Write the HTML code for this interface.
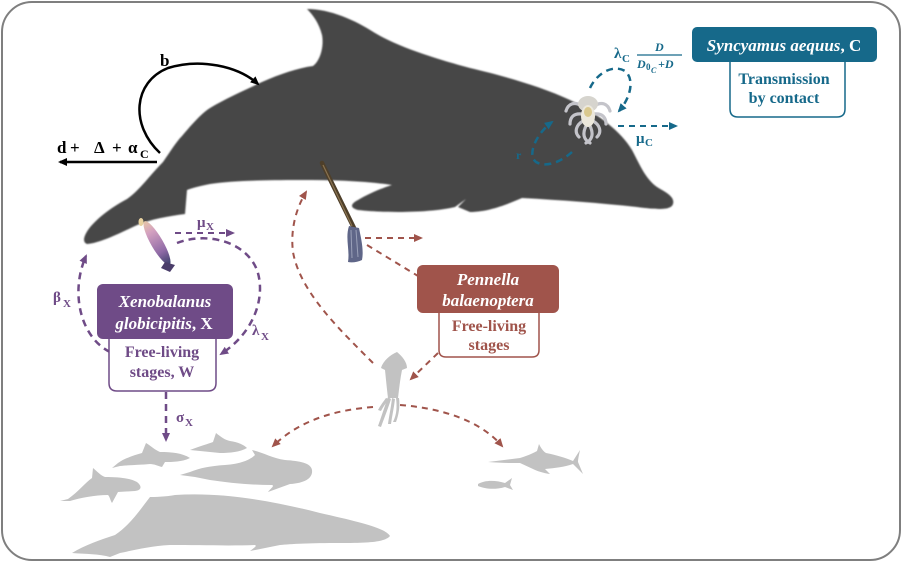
<!DOCTYPE html>
<html>
<head>
<meta charset="utf-8">
<style>
html,body{margin:0;padding:0;background:#fff;}
svg{display:block;}
text{font-family:"Liberation Serif","DejaVu Serif",serif;font-weight:bold;}
</style>
</head>
<body>
<svg width="904" height="564" viewBox="0 0 904 564" xmlns="http://www.w3.org/2000/svg">
<defs>
  <marker id="mk" markerUnits="userSpaceOnUse" markerWidth="10" markerHeight="10" refX="7" refY="5" orient="auto"><path d="M0,1 L9,5 L0,9 z" fill="#000"/></marker>
  <marker id="mp" markerUnits="userSpaceOnUse" markerWidth="10" markerHeight="10" refX="7" refY="5" orient="auto"><path d="M0,1 L9,5 L0,9 z" fill="#6f4b87"/></marker>
  <marker id="mt" markerUnits="userSpaceOnUse" markerWidth="10" markerHeight="10" refX="7" refY="5" orient="auto"><path d="M0,1 L9,5 L0,9 z" fill="#16698a"/></marker>
  <marker id="mr" markerUnits="userSpaceOnUse" markerWidth="10" markerHeight="10" refX="7" refY="5" orient="auto"><path d="M0,1 L9,5 L0,9 z" fill="#a0544b"/></marker>
  <filter id="sh" x="-10%" y="-10%" width="120%" height="120%"><feGaussianBlur stdDeviation="0.7"/></filter>
  <linearGradient id="xg" x1="0" y1="0" x2="0" y2="1">
    <stop offset="0" stop-color="#e6c7a8"/>
    <stop offset="0.25" stop-color="#d3a0c0"/>
    <stop offset="0.7" stop-color="#8f6aa6"/>
    <stop offset="1" stop-color="#3a3f6a"/>
  </linearGradient>
</defs>

<!-- frame -->
<rect x="2" y="2" width="898" height="558" rx="30" ry="30" fill="#fff" stroke="#7f7f7f" stroke-width="2"/>

<!-- main dolphin -->
<path filter="url(#sh)" fill="#474747" d="M307,9 C330,9 355,20 375,33 C400,48 440,60 470,68 C500,75 540,86 570,100 C595,112 620,130 632,150 C640,165 645,178 657,187 C667,193 675,197 673,204 C671,210 660,210 637,207 C600,203 560,200 522,198 C510,203 490,212 470,212 L458,207 L466,199 L455,207 C430,213 385,213 358,210 C350,208 350,204 358,200 C368,194 382,188 392,185 C365,181 335,180 300,180 C260,180 230,181 210,184 C200,186 192,188 187,190 L185,214 C170,216 150,219 135,226 C118,234 100,243 87,244 C82,242 84,236 88,230 C95,220 110,208 127,199 C140,190 150,175 163,162 C170,152 176,142 182,136 C192,124 202,113 210,108 C225,99 245,90 262,82 C280,74 298,68 313,66 C321,60 324,45 322,35 C319,23 313,15 307,9 Z"/>

<!-- Pennella on dolphin -->
<path d="M322,163 L354,228" stroke="#4e3f2a" stroke-width="4.5" stroke-linecap="round"/>
<path d="M323,165 L352,226" stroke="#8a7350" stroke-width="1.2"/>
<path d="M349,226 C345,238 350,250 348,262 C352,263 358,262 362,260 C364,250 361,238 359,228 Z" fill="#5f6688"/>
<path d="M351,230 L352,258 M356,230 L358,257" stroke="#9aa0b8" stroke-width="1"/>

<!-- Xenobalanus on dolphin -->
<ellipse cx="157" cy="243" rx="6" ry="25" transform="rotate(-30 157 243)" fill="url(#xg)"/>
<ellipse cx="141" cy="222" rx="2.5" ry="4" fill="#e8d2a0"/>
<path d="M165,262 L175,265 L170,272 L161,268 Z" fill="#4a3d6a"/>

<!-- Syncyamus on dolphin -->
<g stroke="#c4c4ca" stroke-width="3.2" fill="none" stroke-linecap="round">
  <path d="M582,106 C574,101 568,104 566,111"/>
  <path d="M582,114 C573,113 570,118 570,124"/>
  <path d="M583,121 C576,125 574,132 579,137"/>
  <path d="M586,126 C582,134 584,140 590,143"/>
  <path d="M594,106 C602,101 608,104 610,111"/>
  <path d="M594,114 C603,113 606,118 606,124"/>
  <path d="M593,121 C600,125 602,132 597,137"/>
  <path d="M590,126 C594,134 592,140 586,143"/>
</g>
<ellipse cx="588" cy="104" rx="10" ry="8" fill="#d6d4ce"/>
<ellipse cx="588" cy="116" rx="7" ry="11" fill="#ece8dc"/>
<ellipse cx="588" cy="112" rx="4" ry="5" fill="#d9c88e"/>

<!-- black arrows -->
<path d="M160,153 C130,125 133,82 168,68 C200,58 238,66 258,84" fill="none" stroke="#000" stroke-width="2.5" marker-end="url(#mk)"/>
<path d="M157,162 L60,162" fill="none" stroke="#000" stroke-width="2.5" marker-end="url(#mk)"/>
<text x="160" y="66" font-size="17" fill="#000">b</text>
<text x="57" y="153" font-size="17" fill="#000">d</text>
<text x="70" y="153" font-size="17" fill="#000">+</text>
<text x="94" y="153" font-size="17" fill="#000">Δ</text>
<text x="112" y="153" font-size="17" fill="#000">+</text>
<text x="128" y="153" font-size="17" fill="#000">α</text>
<text x="140" y="158" font-size="12" fill="#000">C</text>

<!-- teal arrows -->
<g fill="none" stroke="#16698a" stroke-width="2.5" stroke-dasharray="7,5">
  <path d="M590,88 C597,73 613,64 625,71 C634,78 632,96 619,111" marker-end="url(#mt)"/>
  <path d="M572,152 C561,162 546,168 536,162 C526,154 538,132 552,122" marker-end="url(#mt)"/>
  <path d="M618,126 L676,126" stroke-width="2" stroke-dasharray="6,5" marker-end="url(#mt)"/>
</g>
<text x="614" y="58" font-size="15" fill="#16698a">λ</text>
<text x="622" y="62" font-size="11" fill="#16698a">C</text>
<text x="655" y="51" font-size="12" font-style="italic" fill="#16698a">D</text>
<line x1="637" y1="55" x2="682" y2="55" stroke="#16698a" stroke-width="1.2"/>
<text x="637" y="68" font-size="12" font-style="italic" fill="#16698a">D</text>
<text x="646" y="70" font-size="9" fill="#16698a">0</text>
<text x="651" y="73" font-size="8" font-style="italic" fill="#16698a">C</text>
<text x="658" y="68" font-size="12" font-style="italic" fill="#16698a">+D</text>
<text x="636" y="143" font-size="15" fill="#16698a">μ</text>
<text x="645" y="146" font-size="11" fill="#16698a">C</text>
<text x="516" y="159" font-size="12" fill="#16698a">r</text>

<!-- Syncyamus boxes -->
<path d="M730,62 L730,109 Q730,117 738,117 L837,117 Q845,117 845,109 L845,62" fill="#fff" stroke="#16698a" stroke-width="1.5"/>
<rect x="692" y="27" width="185" height="35" rx="5" fill="#16698a"/>
<text x="784" y="51" font-size="17" fill="#fff" text-anchor="middle"><tspan font-style="italic">Syncyamus aequus</tspan>, C</text>
<text x="784" y="84" font-size="16" fill="#16698a" text-anchor="middle">Transmission</text>
<text x="784" y="103" font-size="16" fill="#16698a" text-anchor="middle">by contact</text>

<!-- purple arrows -->
<g fill="none" stroke="#6f4b87" stroke-width="2.5" stroke-dasharray="7,5">
  <path d="M110,352 C80,337 70,292 86,256" marker-end="url(#mp)"/>
  <path d="M177,243 C205,232 245,240 257,270 C266,296 255,332 221,354" marker-end="url(#mp)"/>
  <path d="M175,233 L233,233" stroke-width="2" stroke-dasharray="6,5" marker-end="url(#mp)"/>
  <path d="M166,392 L166,440" stroke-width="2.5" stroke-dasharray="7,5" marker-end="url(#mp)"/>
</g>
<text x="197" y="227" font-size="15" fill="#6f4b87">μ</text>
<text x="206" y="230" font-size="11" fill="#6f4b87">X</text>
<text x="53" y="302" font-size="15" fill="#6f4b87">β</text>
<text x="63" y="307" font-size="11" fill="#6f4b87">X</text>
<text x="252" y="335" font-size="15" fill="#6f4b87">λ</text>
<text x="261" y="340" font-size="11" fill="#6f4b87">X</text>
<text x="176" y="422" font-size="15" fill="#6f4b87">σ</text>
<text x="185" y="426" font-size="11" fill="#6f4b87">X</text>

<!-- Xenobalanus boxes -->
<path d="M109,339 L109,383 Q109,391 117,391 L208,391 Q216,391 216,383 L216,339" fill="#fff" stroke="#6f4b87" stroke-width="1.5"/>
<rect x="97" y="284" width="136" height="55" rx="6" fill="#6f4b87"/>
<text x="165" y="307" font-size="17" fill="#fff" text-anchor="middle" font-style="italic">Xenobalanus</text>
<text x="164" y="329" font-size="17" fill="#fff" text-anchor="middle"><tspan font-style="italic">globicipitis</tspan>, X</text>
<text x="162" y="357" font-size="16" fill="#6f4b87" text-anchor="middle">Free-living</text>
<text x="162" y="377" font-size="16" fill="#6f4b87" text-anchor="middle">stages, W</text>

<!-- brown arrows -->
<g fill="none" stroke="#a0544b" stroke-width="2" stroke-dasharray="6,5">
  <path d="M365,238 L421,238" marker-end="url(#mr)"/>
  <path d="M367,245 L418,276"/>
  <path d="M373,363 C340,330 300,292 293,252 C290,228 297,207 306,192" marker-end="url(#mr)"/>
  <path d="M438,353 L411,379" marker-end="url(#mr)"/>
  <path d="M373,407 C335,410 300,420 273,446" marker-end="url(#mr)"/>
  <path d="M400,405 C440,408 480,420 502,446" marker-end="url(#mr)"/>
</g>

<!-- Pennella boxes -->
<path d="M439,313 L439,350 Q439,357 446,357 L532,357 Q539,357 539,350 L539,313" fill="#fff" stroke="#a0544b" stroke-width="1.5"/>
<rect x="417" y="265" width="142" height="48" rx="6" fill="#a0544b"/>
<text x="488" y="285" font-size="17" fill="#fff" text-anchor="middle" font-style="italic">Pennella</text>
<text x="488" y="306" font-size="17" fill="#fff" text-anchor="middle" font-style="italic">balaenoptera</text>
<text x="489" y="331" font-size="16" fill="#a0544b" text-anchor="middle">Free-living</text>
<text x="489" y="350" font-size="16" fill="#a0544b" text-anchor="middle">stages</text>

<!-- grey animals -->
<g fill="#c2c2c2">
  <path d="M397,352 C402,356 407,362 407,368 L402,370 C400,380 399,390 398,398 L388,398 C387,390 386,380 385,370 L381,368 C383,361 390,355 397,352 Z"/>
  <path d="M388,397 C385,405 382,415 378,426 L381,427 C385,416 389,406 391,399 Z"/>
  <path d="M392,398 C391,408 389,416 388,424 L391,424 C392,416 394,408 395,399 Z"/>
  <path d="M396,398 C397,406 397,414 393,422 L396,422 C399,414 400,406 399,398 Z"/>
  <path d="M386,398 C383,402 380,406 378,410 L381,411 C383,407 386,403 389,399 Z"/>
  <path d="M488,462 L520,458 C530,455 535,452 537,451 L539,444 C541,448 543,451 546,453 C556,455 566,458 573,461 L580,450 C579,455 578,459 578,462 L583,474 L573,464 C565,467 555,468 545,469 L550,474 C543,473 537,471 533,469 L520,463 C510,463 500,463 488,462 Z"/>
  <path d="M478,484 C485,480 495,480 505,483 L512,478 L510,485 L513,490 L505,487 C495,490 485,489 478,486 Z"/>
  <path d="M112,468 L118,463 C125,458 135,455 142,453 L146,443 C151,446 155,450 160,452 C172,452 182,453 190,458 C182,462 172,462 165,462 L162,467 C158,466 154,464 150,464 C140,465 128,465 120,466 Z"/>
  <path d="M190,450 C200,446 208,444 213,442 L216,433 C221,437 225,440 230,441 C238,442 244,445 247,448 C240,452 230,453 220,453 C210,452 200,451 190,450 Z"/>
  <path d="M180,475 L190,472 C200,468 210,466 225,465 C240,464 250,460 255,455 L252,450 C262,452 272,458 285,460 C300,461 311,463 312,470 C313,478 305,483 290,484 L268,492 C270,489 275,486 272,485 C250,485 230,483 210,480 L195,477 Z"/>
  <path d="M60,501 L68,499 C78,492 85,483 92,478 L93,468 C98,472 100,475 105,477 C118,477 130,478 137,482 C142,486 142,490 135,491 L118,492 L112,503 C110,500 110,497 108,495 C95,495 80,498 70,501 Z"/>
  <path d="M72,553 C85,545 100,540 115,535 C130,525 140,510 150,497 C160,497 170,496 175,495 C220,492 270,500 320,513 C360,522 385,528 390,536 C385,542 370,543 340,543 C310,543 290,544 280,545 L250,551 C255,547 257,546 255,545 C230,546 200,545 170,545 C150,546 135,550 120,553 L110,557 C100,554 85,554 72,553 Z"/>
</g>
</svg>
</body>
</html>
